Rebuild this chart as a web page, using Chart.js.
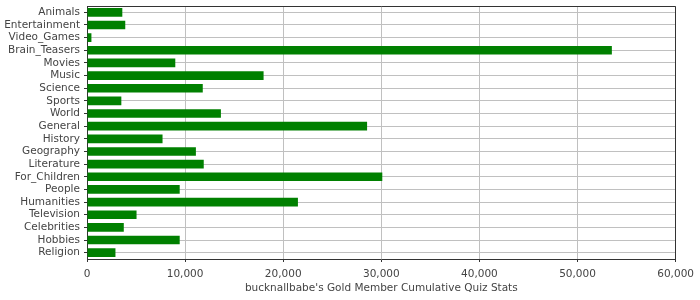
<!DOCTYPE html>
<html>
<head>
<meta charset="utf-8">
<script src="https://cdn.jsdelivr.net/npm/chart.js@4/dist/chart.umd.min.js"></script>
<style>
  html, body { margin: 0; padding: 0; background: #fff; }
  #wrap { width: 700px; height: 300px; position: relative; }
</style>
</head>
<body>
<div id="wrap"><canvas id="c" width="700" height="300"></canvas></div>
<script>
const categories = ["Animals","Entertainment","Video_Games","Brain_Teasers","Movies","Music","Science","Sports","World","General","History","Geography","Literature","For_Children","People","Humanities","Television","Celebrities","Hobbies","Religion"];
const values = [3600, 3900, 450, 53500, 9000, 18000, 11800, 3500, 13650, 28550, 7700, 11100, 11900, 30100, 9450, 21500, 5050, 3750, 9450, 2900];
const xTicks = [0, 10000, 20000, 30000, 40000, 50000, 60000];
const axisTitle = "bucknallbabe's Gold Member Cumulative Quiz Stats";

const FONT = { family: "'DejaVu Sans', sans-serif", size: 10.5 };
const YFONT = { family: "'DejaVu Sans', sans-serif", size: 10.5, lineHeight: 0.3 };
const TEXT = '#444444';
const GRID = '#c0c0c0';
const AXIS = '#333333';

const frame = {
  id: 'frame',
  afterDatasetsDraw(chart) {
    const a = chart.chartArea, ctx = chart.ctx;
    ctx.save();
    ctx.strokeStyle = AXIS;
    ctx.lineWidth = 1;
    ctx.beginPath();
    ctx.moveTo(Math.round(a.left) + 0.5, Math.round(a.top) + 0.5);
    ctx.lineTo(Math.round(a.right) - 0.5, Math.round(a.top) + 0.5);
    ctx.lineTo(Math.round(a.right) - 0.5, Math.round(a.bottom) + 0.5);
    ctx.stroke();
    ctx.restore();
  }
};

new Chart(document.getElementById('c'), {
  type: 'bar',
  data: {
    labels: categories,
    datasets: [{
      data: values,
      backgroundColor: '#008000',
      borderWidth: 0,
      barPercentage: 0.68,
      categoryPercentage: 1.0
    }]
  },
  options: {
    indexAxis: 'y',
    responsive: false,
    animation: false,
    layout: { padding: { left: 0, right: 24, top: 6, bottom: 5 } },
    plugins: { legend: { display: false }, tooltip: { enabled: false } },
    scales: {
      x: {
        min: 0, max: 60000,
        afterBuildTicks(scale) { scale.ticks = xTicks.map(v => ({ value: v })); },
        afterFit(scale) { scale.height = 36; },
        ticks: {
          font: FONT, color: TEXT, padding: 6, maxRotation: 0,
          callback: (v) => Number(v).toLocaleString('en-US')
        },
        grid: { color: GRID, lineWidth: 1, tickColor: AXIS, tickLength: 3, drawTicks: true },
        border: { color: AXIS, width: 1 },
        title: { display: true, text: axisTitle, font: FONT, color: TEXT, padding: { top: 0, bottom: 0 } }
      },
      y: {
        afterFit(scale) { scale.width = 87; },
        ticks: { font: YFONT, color: TEXT, padding: 4, autoSkip: false },
        grid: { color: GRID, lineWidth: 1, offset: false, tickColor: AXIS, tickLength: 3, drawTicks: true },
        border: { color: AXIS, width: 1 }
      }
    }
  },
  plugins: [frame]
});
</script>
</body>
</html>
